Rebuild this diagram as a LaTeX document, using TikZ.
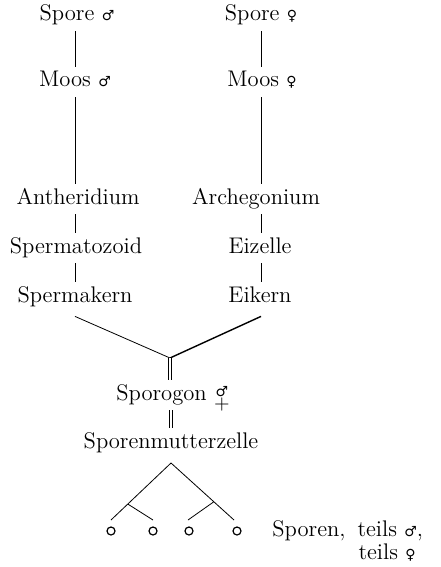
\documentclass[tikz,border=0pt]{standalone}
\usepackage{fontspec}
\newfontfamily\sexfont{DejaVu Sans}
\newcommand{\maennl}{{\fontsize{7}{7}\sexfont ♂}}
\newcommand{\weibl}{{\fontsize{7}{7}\sexfont ♀}}
\newcommand{\zwitter}{\raisebox{-4.5pt}{\shortstack{{\fontsize{7}{7}\sexfont ♂}\\[-2.5pt]{\fontsize{10}{10}\selectfont +}}}}
\usetikzlibrary{calc}

\begin{document}
\begin{tikzpicture}[
    x=0.5pt, y=-0.5pt,
    thin,
    stage/.style={inner sep=2.5pt, text height=7.5pt, text depth=2.5pt, font=\fontsize{11.3}{13.5}\selectfont},
    spore/.style={draw, circle, minimum size=4pt, inner sep=0pt, line width=0.6pt},
    note/.style={inner sep=0pt, font=\fontsize{11.3}{13.5}\selectfont}
]
    \useasboundingbox (0,0) rectangle (440,567);

    % column axes for the vertical links
    \coordinate (COL_M) at (75, 0);
    \coordinate (COL_F) at (261, 0);

    % ================= MALE LINE =================
    \node[stage] (SPORE_M) at (77, 16) {Spore \maennl};
    \node[stage] (MOOS_M) at (75, 82) {Moos \maennl};
    \node[stage] (ANTH) at (78, 199) {Antheridium};
    \node[stage] (SPERM) at (76, 248) {Spermatozoid};
    \node[stage] (SPERMK) at (75, 297) {Spermakern};

    % ================= FEMALE LINE =================
    \node[stage] (SPORE_F) at (261, 16) {Spore \weibl};
    \node[stage] (MOOS_F) at (262, 82) {Moos \weibl};
    \node[stage] (ARCH) at (256, 199) {Archegonium};
    \node[stage] (EIZ) at (260, 248) {Eizelle};
    \node[stage] (EIK) at (260, 297) {Eikern};

    % ================= SPOROPHYTE =================
    \coordinate (JOIN) at (170, 358);
    \node[stage] (SPOROG) at (173, 395) {Sporogon \zwitter};
    \node[stage] (SMZ) at (171, 443) {Sporenmutterzelle};

    % ================= CONNECTIONS =================
    \draw (SPORE_M.south -| COL_M) -- (MOOS_M.north -| COL_M);
    \draw (MOOS_M.south -| COL_M) -- (ANTH.north -| COL_M);
    \draw (ANTH.south -| COL_M) -- (SPERM.north -| COL_M);
    \draw (SPERM.south -| COL_M) -- (SPERMK.north -| COL_M);

    \draw (SPORE_F.south -| COL_F) -- (MOOS_F.north -| COL_F);
    \draw (MOOS_F.south -| COL_F) -- (ARCH.north -| COL_F);
    \draw (ARCH.south -| COL_F) -- (EIZ.north -| COL_F);
    \draw (EIZ.south -| COL_F) -- (EIK.north -| COL_F);

    \draw ([yshift=-2pt]SPERMK.south -| COL_M) -- (JOIN);
    \draw[line width=0.7pt] ([yshift=-2pt]EIK.south -| COL_F) -- (JOIN);

    \draw[double, double distance=1.4pt] (JOIN) -- (JOIN |- SPOROG.north);
    \draw[double, double distance=1.4pt] (SPOROG.south -| SMZ) -- (SMZ.north);

    % ================= SPORES =================
    \coordinate (APEX) at (171, 463);
    \coordinate (B_L) at (111, 520);
    \coordinate (B_R) at (234, 520);
    \coordinate (I_L) at (153, 520);
    \coordinate (I_R) at (188, 520);

    \node[spore] (S1) at (111, 531) {};
    \node[spore] (S2) at (153, 531) {};
    \node[spore] (S3) at (189, 531) {};
    \node[spore] (S4) at (237, 531) {};

    \draw (APEX) -- (B_L);
    \draw (APEX) -- (B_R);
    \draw ($(APEX)!0.72!(B_L)$) -- (I_L);
    \draw ($(APEX)!0.68!(B_R)$) -- (I_R);

    \node[note, anchor=west] (SP_1) at (272, 531) {Sporen,\hspace{6pt}teils \maennl,};
    \node[note, anchor=east] (SP_2) at (416, 553) {teils \weibl};

\end{tikzpicture}
\end{document}
